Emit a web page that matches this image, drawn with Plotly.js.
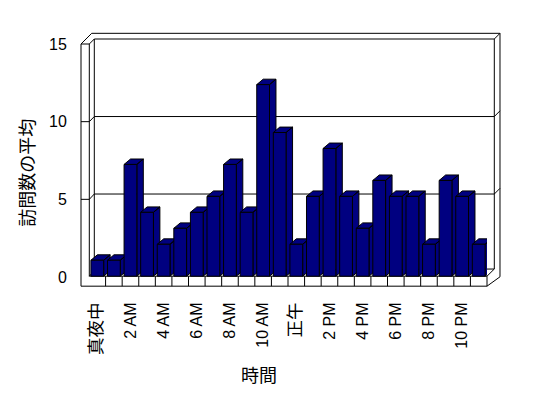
<!DOCTYPE html>
<html>
<head>
<meta charset="utf-8">
<script src="https://cdn.plot.ly/plotly-3.0.1.min.js"></script>
<style>html,body{margin:0;padding:0;background:#fff}#chart{width:548px;height:398px}</style>
</head>
<body>
<div id="chart"></div>
<script>
// ---- data ----
const hourIndex = [0,1,2,3,4,5,6,7,8,9,10,11,12,13,14,15,16,17,18,19,20,21,22,23];
const hourNames = ['真夜中','1 AM','2 AM','3 AM','4 AM','5 AM','6 AM','7 AM','8 AM','9 AM','10 AM','11 AM',
                   '正午','1 PM','2 PM','3 PM','4 PM','5 PM','6 PM','7 PM','8 PM','9 PM','10 PM','11 PM'];
const avgVisits = [1,1,7,4,2,3,4,5,7,4,12,9,2,5,8,5,3,6,5,5,2,6,5,2];
const xTickVals = [0,2,4,6,8,10,12,14,16,18,20,22];
const xTickText = ['真夜中','2 AM','4 AM','6 AM','8 AM','10 AM','正午','2 PM','4 PM','6 PM','8 PM','10 PM'];
const yTickVals = [0,5,10,15];
const xTitle = '時間';
const yTitle = '訪問数の平均';

// ---- geometry (pixels) ----
const FONT = 'Liberation Sans, Noto Sans CJK JP, sans-serif';
const NAVY = '#000080';
const L = 89, R = 487, T = 44, B = 277.5;
const W = R - L, H = B - T;
const barZeroPx = 276.7, barPxPerUnit = 16;
const barRange = [-(B - barZeroPx) / barPxPerUnit, (barZeroPx - T) / barPxPerUnit];
const halfW = 0.385, depthX = 0.39, depthY = 0.34;
const px = X => (X - L) / W;
const py = Y => (B - Y) / H;
const path = pts => pts.map((p, k) => (k ? 'L' : 'M') + px(p[0]).toFixed(5) + ',' + py(p[1]).toFixed(5)).join(' ');
const frontY = v => B - v * (H / 15);
const backY = v => 272 - v * 15.53;

const lineStyle = {color: '#000', width: 1};
const shapes = [];
// outer silhouette of walls / floor
shapes.push({type:'path', xref:'paper', yref:'paper', layer:'below', fillcolor:'#fff', line:lineStyle,
  path: path([[81,286.7],[81,44],[91.7,33.3],[500,33.3],[500,277.3],[487,286.7]]) + ' Z'});
// left wall front face inner edge and top
shapes.push({type:'path', xref:'paper', yref:'paper', layer:'below', line:lineStyle,
  path: path([[81,44],[89.3,44],[89.3,276.7]])});
// back wall inner outline
shapes.push({type:'path', xref:'paper', yref:'paper', layer:'below', line:lineStyle,
  path: path([[89.3,44],[94.3,39],[494.3,39],[494.3,269.5]])});
shapes.push({type:'path', xref:'paper', yref:'paper', layer:'below', line:lineStyle,
  path: path([[494.3,39],[500,33.3]])});
shapes.push({type:'path', xref:'paper', yref:'paper', layer:'below', line:lineStyle,
  path: path([[94.3,39],[94.3,271.5]])});
// floor
shapes.push({type:'path', xref:'paper', yref:'paper', layer:'below', line:lineStyle,
  path: path([[89.3,276.7],[487,276.7],[487,286.7]])});
shapes.push({type:'path', xref:'paper', yref:'paper', layer:'below', line:lineStyle,
  path: path([[487,276.7],[494.3,269.5]])});
shapes.push({type:'path', xref:'paper', yref:'paper', layer:'below', line:lineStyle,
  path: path([[89.3,276.7],[94.3,271.5],[494.3,269.5]])});
// floor category dividers
for (let k = 0; k < hourIndex.length - 1; k++) {
  shapes.push({type:'line', xref:'x', yref:'paper', layer:'below', line:lineStyle,
    x0: hourIndex[k] + 0.5, x1: hourIndex[k] + 0.5, y0: py(276.7), y1: py(286.7)});
}
// gridlines on left and back walls
yTickVals.filter(v => v > 0 && v < 15).forEach(v => {
  const yf = frontY(v), yb = backY(v);
  shapes.push({type:'path', xref:'paper', yref:'paper', layer:'below', line:lineStyle,
    path: path([[81,yf],[89.3,yf],[94.3,yb],[494.3,yb],[500,yb-5.7]])});
});

// ---- traces ----
// main subplot (value axis with tick labels) - holds an empty trace so the axis is drawn
const traces = [{type:'scatter', mode:'markers', x:[], y:[], xaxis:'x', yaxis:'y',
  hoverinfo:'skip', showlegend:false}];
// side and top faces of the columns (drawn under the front faces)
hourIndex.forEach((x, i) => {
  const v = avgVisits[i];
  traces.push({
    type:'scatter', mode:'lines', xaxis:'x', yaxis:'y2', fill:'toself', fillcolor:NAVY,
    line:{color:'#000', width:1}, hoverinfo:'skip', showlegend:false,
    x:[x+halfW, x+halfW+depthX, x+halfW+depthX, x+halfW, x+halfW, null,
       x-halfW, x-halfW+depthX, x+halfW+depthX, x+halfW, x-halfW],
    y:[0, depthY, v+depthY, v, 0, null,
       v, v+depthY, v+depthY, v, v]
  });
});
// front faces of the columns
traces.push({
  type:'bar', x: hourIndex, y: avgVisits, xaxis:'x', yaxis:'y3', width: 2*halfW,
  marker:{color:NAVY, line:{color:'#000', width:1}},
  customdata: hourNames, textposition:'none',
  hovertemplate:'%{customdata}: %{y}<extra></extra>', showlegend:false
});

const layout = {
  width:548, height:398,
  margin:{l:L, r:548-R, t:T, b:398-B, pad:0},
  paper_bgcolor:'#fff', plot_bgcolor:'rgba(0,0,0,0)',
  showlegend:false,
  font:{family:FONT, size:16, color:'#000'},
  xaxis:{range:[-0.5,23.5], tickmode:'array', tickvals:xTickVals,
    ticktext: xTickText.map(t => /[^\x00-\x7F]/.test(t) ? '<span style="font-size:17.5px">'+t+'</span>' : t),
    tickangle:-90, ticks:'outside', ticklen:18, tickcolor:'rgba(0,0,0,0)',
    showgrid:false, zeroline:false, showline:false, fixedrange:true},
  yaxis:{range:[0,15], side:'left', tickmode:'array', tickvals:yTickVals,
    ticks:'outside', ticklen:18, tickcolor:'rgba(0,0,0,0)',
    showgrid:false, zeroline:false, showline:false, fixedrange:true},
  yaxis2:{range:barRange, overlaying:'y', visible:false, fixedrange:true},
  yaxis3:{range:barRange, overlaying:'y', visible:false, fixedrange:true},
  shapes: shapes,
  annotations:[
    {text:yTitle, xref:'paper', yref:'paper', x:px(28), y:py(173), textangle:-90,
     showarrow:false, xanchor:'center', yanchor:'middle', font:{size:18}},
    {text:xTitle, xref:'paper', yref:'paper', x:px(259), y:py(377),
     showarrow:false, xanchor:'center', yanchor:'middle', font:{size:18}}
  ]
};

Plotly.newPlot('chart', traces, layout, {displayModeBar:false, staticPlot:true});
</script>
</body>
</html>
